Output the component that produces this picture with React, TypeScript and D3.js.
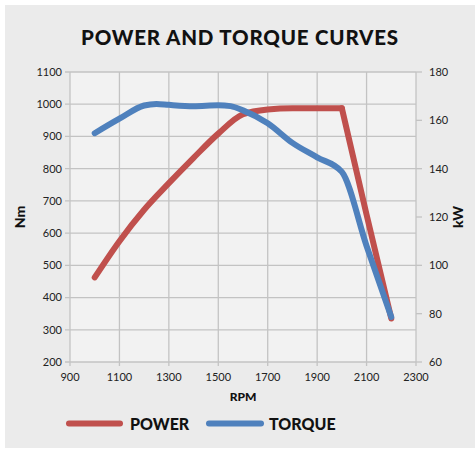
import * as d3 from 'd3';
import React from 'react';

const rpmTicks = [900, 1100, 1300, 1500, 1700, 1900, 2100, 2300];
const nmTicks = [200, 300, 400, 500, 600, 700, 800, 900, 1000, 1100];
const kwTicks = [60, 80, 100, 120, 140, 160, 180];

// power curve, kW (right axis)
const powerRpm = [1000, 1100, 1200, 1300, 1400, 1500, 1600, 1700, 1800, 1900, 2000, 2100, 2200];
const powerKw = [95, 110, 123, 134, 144.5, 154.5, 162.5, 164.5, 165, 165, 165, 121, 78];

// torque curve, Nm (left axis)
const torqueRpm = [1000, 1100, 1200, 1250, 1300, 1400, 1500, 1550, 1600, 1700, 1800, 1900, 2000, 2100, 2200];
const torqueNm = [910, 955, 996, 1001, 998, 994, 997, 994, 981, 941, 880, 835, 790, 560, 340];

const W = 475;
const H = 449;
const margin = { top: 72, right: 59, bottom: 87, left: 70 };
const font = "Lato, 'Open Sans', sans-serif";
const RED = '#c0504d';
const BLUE = '#4f81bd';

const App = () => {
  const x = d3.scaleLinear().domain([900, 2300]).range([margin.left, W - margin.right]);
  const yL = d3.scaleLinear().domain([200, 1100]).range([H - margin.bottom, margin.top]);
  const yR = d3.scaleLinear().domain([60, 180]).range([H - margin.bottom, margin.top]);

  const power = powerRpm.map((r, i) => ({ r, v: powerKw[i] }));
  const torque = torqueRpm.map((r, i) => ({ r, v: torqueNm[i] }));

  // smooth up to the cut-off at 2000 rpm, straight drop after (power)
  const powerSmooth = d3.line<{ r: number; v: number }>()
    .x(d => x(d.r)).y(d => yR(d.v)).curve(d3.curveMonotoneX);
  const powerDrop = d3.line<{ r: number; v: number }>()
    .x(d => x(d.r)).y(d => yR(d.v));
  const torqueLine = d3.line<{ r: number; v: number }>()
    .x(d => x(d.r)).y(d => yL(d.v)).curve(d3.curveMonotoneX);

  const x0 = margin.left, x1 = W - margin.right;
  const yTop = margin.top, yBot = H - margin.bottom;
  const grid = '#c3c3c3';
  const lineStyle = { fill: 'none', strokeWidth: 6, strokeLinecap: 'round' as const, strokeLinejoin: 'round' as const };

  return (
    <div style={{ position: 'absolute', left: 0, top: 0 }}>
      <svg width={W} height={H} style={{ display: 'block', fontFamily: font }}>
        <rect x={5} y={5} width={W - 5} height={H - 6} fill="#ebebeb" />
        <rect x={x0} y={yTop} width={x1 - x0} height={yBot - yTop} fill="#f2f2f2" />

        <text x={240} y={45} textAnchor="middle" fontSize={20.5} fontWeight="900" letterSpacing={0.8} fill="#111">
          POWER AND TORQUE CURVES
        </text>

        {/* grid */}
        {rpmTicks.map(t => (
          <line key={'gx' + t} x1={x(t)} x2={x(t)} y1={yTop} y2={yBot + 4} stroke={grid} strokeWidth={1.3} />
        ))}
        {nmTicks.map(t => (
          <line key={'gy' + t} x1={x0 - 5} x2={x1} y1={yL(t)} y2={yL(t)} stroke={grid} strokeWidth={1.3} />
        ))}
        {kwTicks.map(t => (
          <line key={'rk' + t} x1={x1} x2={x1 + 6} y1={yR(t)} y2={yR(t)} stroke={grid} strokeWidth={1.3} />
        ))}

        {/* tick labels */}
        {nmTicks.map(t => (
          <text key={'ln' + t} x={x0 - 8} y={yL(t)} dy="0.35em" textAnchor="end" fontSize={11} fill="#222">{t}</text>
        ))}
        {kwTicks.map(t => (
          <text key={'lk' + t} x={x1 + 13} y={yR(t)} dy="0.35em" textAnchor="start" fontSize={11} fill="#222">{t}</text>
        ))}
        {rpmTicks.map(t => (
          <text key={'lx' + t} x={x(t)} y={yBot + 19} textAnchor="middle" fontSize={11} fill="#222">{t}</text>
        ))}

        {/* axis titles */}
        <text x={243} y={401} textAnchor="middle" fontSize={12} fontWeight="900" fill="#111">RPM</text>
        <text transform={`translate(25,${(yTop + yBot) / 2}) rotate(-90)`} textAnchor="middle" fontSize={14} fontWeight="900" fill="#111">Nm</text>
        <text transform={`translate(463,${(yTop + yBot) / 2}) rotate(-90)`} textAnchor="middle" fontSize={14} fontWeight="900" fill="#111">kW</text>

        {/* series */}
        <path d={powerSmooth(power.filter(d => d.r <= 2000)) || ''} stroke={RED} {...lineStyle} />
        <path d={powerDrop(power.filter(d => d.r >= 2000)) || ''} stroke={RED} {...lineStyle} />
        <path d={torqueLine(torque) || ''} stroke={BLUE} {...lineStyle} />

        {/* legend */}
        <line x1={69} x2={120} y1={423.5} y2={423.5} stroke={RED} strokeWidth={6} strokeLinecap="round" />
        <text x={130} y={429.5} fontSize={16} fontWeight="900" fill="#111">POWER</text>
        <line x1={209} x2={261} y1={423.5} y2={423.5} stroke={BLUE} strokeWidth={6} strokeLinecap="round" />
        <text x={269} y={429.5} fontSize={16} fontWeight="900" fill="#111">TORQUE</text>
      </svg>
    </div>
  );
};

export default App;
